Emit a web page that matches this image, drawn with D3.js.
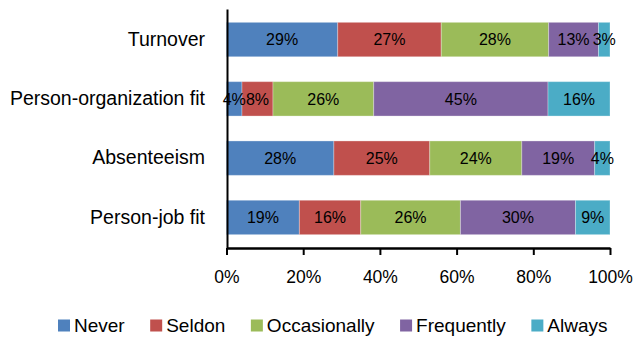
<!DOCTYPE html>
<html>
<head>
<meta charset="utf-8">
<script src="https://cdn.jsdelivr.net/npm/d3@7"></script>
<style>
  html, body { margin: 0; padding: 0; background: #fff; }
  svg { display: block; font-family: "Liberation Sans", Arial, sans-serif; }
</style>
</head>
<body>
<svg id="chart" width="635" height="338"></svg>
<script>
const categories = ["Turnover", "Person-organization fit", "Absenteeism", "Person-job fit"];
const seriesNames = ["Never", "Seldon", "Occasionally", "Frequently", "Always"];
const never = [29, 4, 28, 19];
const seldon = [27, 8, 25, 16];
const occasionally = [28, 26, 24, 26];
const frequently = [13, 45, 19, 30];
const always = [3, 16, 4, 9];
const colors = ["#4F81BD", "#C0504D", "#9BBB59", "#8064A2", "#4BACC6"];
const tickValues = [0, 0.2, 0.4, 0.6, 0.8, 1];

const seriesValues = [never, seldon, occasionally, frequently, always];
const rows = categories.map((c, i) => {
  const row = { category: c };
  seriesNames.forEach((s, j) => (row[s] = seriesValues[j][i]));
  return row;
});

const svg = d3.select("#chart");

const x = d3.scaleLinear().domain([0, 1]).range([226.5, 610]);
const y = d3
  .scaleBand()
  .domain(categories)
  .range([9, 248])
  .paddingInner(0.42)
  .paddingOuter(0.225);

const color = d3.scaleOrdinal().domain(seriesNames).range(colors);

const stacked = d3
  .stack()
  .keys(seriesNames)
  .offset(d3.stackOffsetExpand)(rows);

// bars
const barLayer = svg.append("g").attr("class", "bars");
const groups = barLayer
  .selectAll("g.series")
  .data(stacked)
  .join("g")
  .attr("class", "series")
  .attr("fill", (d) => color(d.key));

groups
  .selectAll("rect")
  .data((d) => d.map((p) => ({ key: d.key, p })))
  .join("rect")
  .attr("x", (d) => x(d.p[0]))
  .attr("y", (d) => y(d.p.data.category))
  .attr("width", (d) => x(d.p[1]) - x(d.p[0]))
  .attr("height", y.bandwidth())
  .attr("stroke", "#fff")
  .attr("stroke-opacity", 0.3)
  .attr("stroke-width", 1);

// data labels
const labelLayer = svg.append("g").attr("class", "labels");
stacked.forEach((s) => {
  labelLayer
    .selectAll(null)
    .data(s)
    .join("text")
    .attr("x", (d) => (x(d[0]) + x(d[1])) / 2)
    .attr("y", (d) => y(d.data.category) + y.bandwidth() / 2)
    .attr("dy", "0.37em")
    .attr("text-anchor", "middle")
    .attr("font-size", "16px")
    .attr("fill", "#000")
    .text((d) => d.data[s.key] + "%");
});

// x axis
const xAxis = svg
  .append("g")
  .attr("transform", "translate(0,248)")
  .call(
    d3
      .axisBottom(x)
      .tickValues(tickValues)
      .tickFormat(d3.format(".0%"))
      .tickSize(7)
      .tickSizeOuter(0)
      .tickPadding(15.3)
  );
xAxis.select(".domain").attr("stroke", "#000").attr("stroke-width", 2.5);
xAxis.selectAll(".tick line").attr("stroke", "#000").attr("stroke-width", 2);
xAxis
  .selectAll(".tick text")
  .attr("font-size", "17.5px")
  .attr("fill", "#000")
  .attr("font-family", "Liberation Sans, Arial, sans-serif");

// y axis
const yAxis = svg
  .append("g")
  .attr("transform", "translate(227,0)")
  .call(d3.axisLeft(y).tickSize(0).tickSizeOuter(0).tickPadding(22));
yAxis.select(".domain").attr("stroke", "#000").attr("stroke-width", 2);
yAxis
  .selectAll(".tick text")
  .attr("font-size", "19.5px")
  .attr("fill", "#000")
  .attr("font-family", "Liberation Sans, Arial, sans-serif");

// legend
const legend = svg.append("g").attr("class", "legend");
let lx = 58;
seriesNames.forEach((name) => {
  const item = legend.append("g").attr("transform", `translate(${lx},0)`);
  item
    .append("rect")
    .attr("x", 0)
    .attr("y", 319.5)
    .attr("width", 12)
    .attr("height", 12)
    .attr("fill", color(name));
  const t = item
    .append("text")
    .attr("x", 16)
    .attr("y", 332)
    .attr("font-size", "19px")
    .attr("fill", "#000")
    .text(name);
  lx += 16 + t.node().getComputedTextLength() + 25.5;
});
</script>
</body>
</html>
